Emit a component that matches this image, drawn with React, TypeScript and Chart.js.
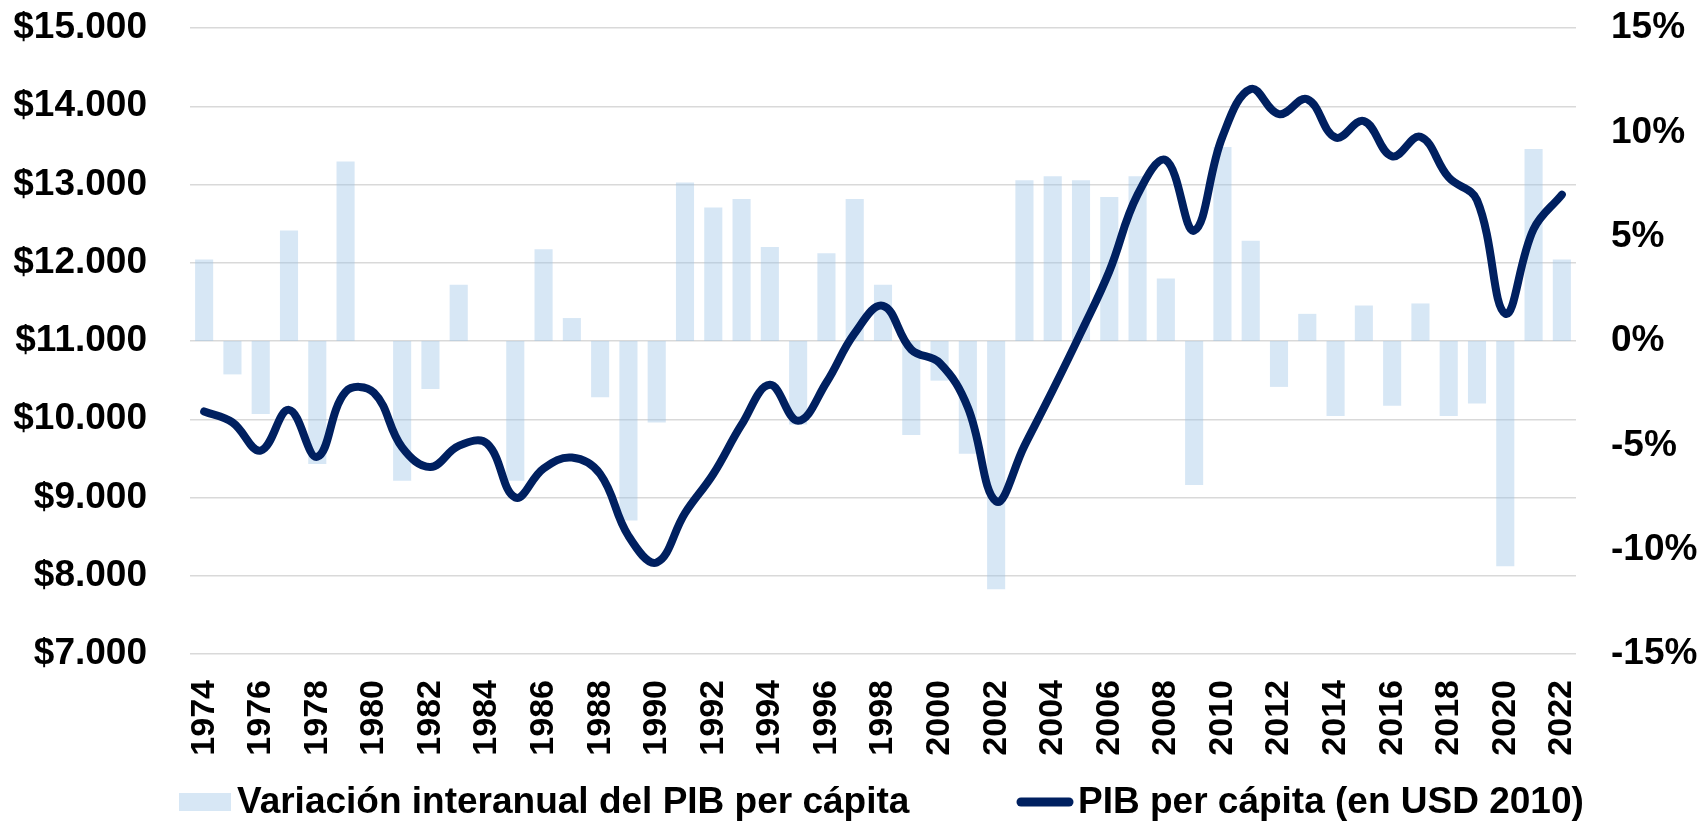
import React, { useEffect, useRef } from 'react';
import { Chart, registerables } from 'chart.js';

Chart.register(...registerables);

const years = [
  '1974', '1975', '1976', '1977', '1978', '1979', '1980', '1981', '1982', '1983',
  '1984', '1985', '1986', '1987', '1988', '1989', '1990', '1991', '1992', '1993',
  '1994', '1995', '1996', '1997', '1998', '1999', '2000', '2001', '2002', '2003',
  '2004', '2005', '2006', '2007', '2008', '2009', '2010', '2011', '2012', '2013',
  '2014', '2015', '2016', '2017', '2018', '2019', '2020', '2021', '2022',
];

// Variación interanual del PIB per cápita (%)
const growthPct = [
  3.9, -1.6, -3.5, 5.3, -5.9, 8.6, 0.0, -6.7, -2.3, 2.7,
  0.0, -6.7, 4.4, 1.1, -2.7, -8.6, -3.9, 7.6, 6.4, 6.8,
  4.5, -4.0, 4.2, 6.8, 2.7, -4.5, -1.9, -5.4, -11.9, 7.7,
  7.9, 7.7, 6.9, 7.9, 3.0, -6.9, 9.3, 4.8, -2.2, 1.3,
  -3.6, 1.7, -3.1, 1.8, -3.6, -3.0, -10.8, 9.2, 3.9,
];

// PIB per cápita (en USD 2010)
const gdpPerCapita = [
  10100, 9960, 9600, 10120, 9520, 10350, 10340, 9640, 9390, 9660,
  9690, 9000, 9370, 9510, 9300, 8510, 8170, 8800, 9300, 9930,
  10440, 9980, 10470, 11100, 11450, 10890, 10720, 10150, 8950, 9660,
  10370, 11110, 11890, 12870, 13310, 12410, 13610, 14220, 13900, 14090,
  13600, 13810, 13360, 13610, 13090, 12800, 11350, 12430, 12870,
];

const leftAxisRange = [7000, 15000, 1000];
const rightAxisRange = [-15, 15, 5];

const barLabel = 'Variación interanual del PIB per cápita';
const lineLabel = 'PIB per cápita (en USD 2010)';

const FONT = '"Liberation Sans", Arial, Helvetica, sans-serif';
const NAVY = '#002060';
const BAR_COLOR = 'rgba(155, 194, 230, 0.4)';
const GRID = '#D9D9D9';

const fmtThousands = (v: number) =>
  String(Math.round(v)).replace(/\B(?=(\d{3})+(?!\d))/g, '.');

const zeroPad = (s: any) => {
  s.paddingTop = 0;
  s.paddingBottom = 0;
};

const bottomLegend = {
  id: 'bottomLegend',
  afterDraw(chart: any) {
    const { ctx } = chart;
    const lineDs = chart.data.datasets[0];
    const barDs = chart.data.datasets[1];
    const cy = 802;
    ctx.save();
    ctx.font = `bold 37px ${FONT}`;
    ctx.textAlign = 'left';
    ctx.textBaseline = 'alphabetic';
    // bar item
    ctx.fillStyle = barDs.backgroundColor;
    ctx.fillRect(179, cy - 9, 52, 18);
    ctx.fillStyle = '#000';
    ctx.fillText(barDs.label, 237, 813);
    // line item
    ctx.strokeStyle = lineDs.borderColor;
    ctx.lineWidth = 9;
    ctx.lineCap = 'round';
    ctx.beginPath();
    ctx.moveTo(1021, cy);
    ctx.lineTo(1069, cy);
    ctx.stroke();
    ctx.fillStyle = '#000';
    ctx.fillText(lineDs.label, 1078, 813);
    ctx.restore();
  },
};

export default function App() {
  const canvasRef = useRef<HTMLCanvasElement | null>(null);

  useEffect(() => {
    if (!canvasRef.current) return;
    const tickFont = { family: FONT, size: 37, weight: 'bold' as const };
    const chart = new Chart(canvasRef.current, {
      type: 'bar',
      data: {
        labels: years,
        datasets: [
          {
            type: 'line',
            label: lineLabel,
            data: gdpPerCapita,
            yAxisID: 'y',
            borderColor: NAVY,
            backgroundColor: NAVY,
            borderWidth: 8,
            pointRadius: 0,
            pointHoverRadius: 0,
            tension: 0.4,
            borderCapStyle: 'round',
            borderJoinStyle: 'round',
            fill: false,
            order: 0,
          } as any,
          {
            type: 'bar',
            label: barLabel,
            data: growthPct,
            yAxisID: 'y1',
            backgroundColor: BAR_COLOR,
            borderWidth: 0,
            barPercentage: 0.64,
            categoryPercentage: 1,
            order: 1,
          } as any,
        ],
      },
      options: {
        animation: false,
        responsive: true,
        maintainAspectRatio: false,
        layout: { padding: { top: 28, left: 0, right: 0, bottom: 0 } },
        plugins: {
          legend: { display: false },
          tooltip: { enabled: false },
        },
        scales: {
          x: {
            grid: { display: false, drawTicks: false },
            border: { display: false },
            ticks: {
              autoSkip: false,
              maxRotation: 90,
              minRotation: 90,
              padding: 26,
              color: '#000',
              font: { family: FONT, size: 34, weight: 'bold' },
              callback: (_v: any, i: number) => (i % 2 === 0 ? years[i] : ''),
            },
            afterFit: (s: any) => {
              s.height = 167;
              s.paddingLeft = 0;
              s.paddingRight = 0;
            },
          },
          y: {
            position: 'left',
            min: leftAxisRange[0],
            max: leftAxisRange[1],
            grid: { color: GRID, lineWidth: 1.5, drawTicks: false },
            border: { display: false },
            ticks: {
              stepSize: leftAxisRange[2],
              padding: 43,
              color: '#000',
              font: tickFont,
              callback: (v: any) => '$' + fmtThousands(Number(v)),
            },
            afterFit: (s: any) => {
              s.width = 190;
              zeroPad(s);
            },
          },
          y1: {
            position: 'right',
            min: rightAxisRange[0],
            max: rightAxisRange[1],
            grid: { display: false, drawTicks: false },
            border: { display: false },
            ticks: {
              stepSize: rightAxisRange[2],
              padding: 35,
              color: '#000',
              font: tickFont,
              callback: (v: any) => `${v}%`,
            },
            afterFit: (s: any) => {
              s.width = 123;
              zeroPad(s);
            },
          },
        },
      },
      plugins: [bottomLegend],
    });
    return () => chart.destroy();
  }, []);

  return (
    <div style={{ position: 'absolute', left: 0, top: 0, width: 1699, height: 821 }}>
      <canvas ref={canvasRef} />
    </div>
  );
}
